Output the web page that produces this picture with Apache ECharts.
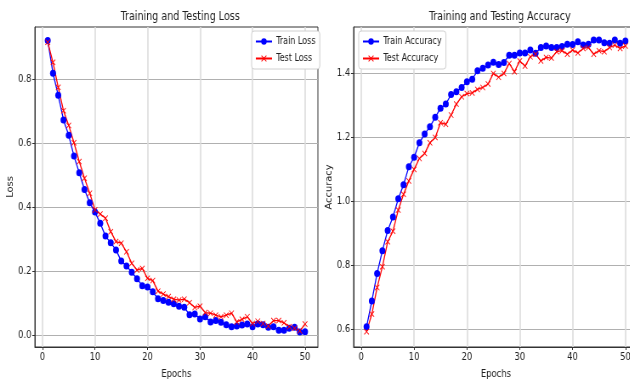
<!DOCTYPE html>
<html><head><meta charset="utf-8">
<script src="https://cdn.jsdelivr.net/npm/echarts@6/dist/echarts.min.js"></script>
<style>html,body{margin:0;padding:0;background:#fff;overflow:hidden}
#wrap{width:630px;height:381px;overflow:hidden}
#c{width:741px;height:381px;transform:scaleX(0.85);transform-origin:0 0}</style>
</head><body><div id="wrap"><div id="c"></div></div>
<script>
const epochs = Array.from({length: 50}, (_, i) => i + 1);
const trainLoss = [0.92,0.818,0.749,0.672,0.624,0.559,0.507,0.455,0.413,0.384,0.349,0.309,0.288,0.266,0.231,0.216,0.196,0.176,0.154,0.150,0.135,0.113,0.108,0.102,0.098,0.090,0.087,0.063,0.066,0.050,0.057,0.041,0.045,0.040,0.032,0.026,0.028,0.031,0.034,0.026,0.034,0.032,0.024,0.026,0.015,0.015,0.021,0.024,0.009,0.010];
const testLoss = [0.915,0.852,0.774,0.701,0.655,0.601,0.542,0.490,0.443,0.391,0.378,0.365,0.323,0.292,0.287,0.260,0.224,0.203,0.208,0.177,0.170,0.137,0.128,0.120,0.112,0.109,0.112,0.101,0.086,0.090,0.070,0.068,0.062,0.057,0.062,0.068,0.041,0.049,0.057,0.036,0.043,0.036,0.028,0.045,0.045,0.038,0.026,0.021,0.013,0.034];
const trainAcc = [0.607,0.688,0.774,0.845,0.908,0.950,1.007,1.051,1.107,1.137,1.182,1.210,1.232,1.262,1.290,1.303,1.333,1.342,1.355,1.373,1.381,1.407,1.415,1.425,1.434,1.427,1.433,1.456,1.456,1.463,1.463,1.472,1.462,1.480,1.485,1.480,1.480,1.483,1.490,1.489,1.498,1.488,1.490,1.503,1.503,1.495,1.493,1.503,1.493,1.500];
const testAcc = [0.592,0.647,0.730,0.795,0.873,0.906,0.972,1.021,1.063,1.099,1.133,1.149,1.182,1.199,1.245,1.240,1.269,1.303,1.326,1.336,1.338,1.349,1.355,1.366,1.399,1.387,1.399,1.430,1.404,1.438,1.422,1.451,1.459,1.438,1.449,1.447,1.467,1.470,1.459,1.472,1.463,1.477,1.480,1.459,1.470,1.467,1.480,1.487,1.477,1.485];
const xTicks = [0,10,20,30,40,50];
const lossTicks = [0.0,0.2,0.4,0.6,0.8];
const accTicks = [0.6,0.8,1.0,1.2,1.4];

const FONT = 'DejaVu Sans Condensed, DejaVu Sans, sans-serif';
const xSym = 'path://M0,1 L1,0 L5,4 L9,0 L10,1 L6,5 L10,9 L9,10 L5,6 L1,10 L0,9 L4,5 Z';
const chart = echarts.init(document.getElementById('c'), null, {renderer: 'canvas'});
function xAxis(gi) {
  return {
    type: 'value', gridIndex: gi, min: -1.45, max: 52.45,
    name: 'Epochs', nameLocation: 'middle', nameGap: 22,
    nameTextStyle: {fontFamily: FONT, fontSize: 11, color: '#222'},
    axisLine: {show: true, onZero: false, lineStyle: {color: '#333'}},
    axisTick: {show: true, length: 3, customValues: xTicks, lineStyle: {color: '#333'}},
    axisLabel: {customValues: xTicks, fontFamily: FONT, fontSize: 11, color: '#222', margin: 5},
    splitLine: {show: true, lineStyle: {color: '#dcdcdc', width: 1.6}}
  };
}
function yAxis(gi, min, max, ticks, name) {
  return {
    type: 'value', gridIndex: gi, min: min, max: max,
    name: name, nameLocation: 'middle', nameGap: 23,
    nameTextStyle: {fontFamily: FONT, fontSize: 11, color: '#222'},
    axisLine: {show: true, onZero: false, lineStyle: {color: '#333'}},
    axisTick: {show: true, length: 3, customValues: ticks, lineStyle: {color: '#333'}},
    axisLabel: {customValues: ticks, fontFamily: FONT, fontSize: 11, color: '#222', margin: 4,
      formatter: v => v.toFixed(1)},
    splitLine: {show: true, lineStyle: {color: '#b0b0b0', width: 1}}
  };
}
function pairs(ys) { return epochs.map((e, i) => [e, ys[i]]); }
function series(name, data, gi, color, sym, size) {
  return {
    name: name, type: 'line', xAxisIndex: gi, yAxisIndex: gi, data: pairs(data),
    symbol: sym, symbolSize: size, showSymbol: true,
    lineStyle: {color: color, width: 1.3},
    itemStyle: {color: color, borderColor: color, borderWidth: 0},
    emphasis: {disabled: true}, animation: false, z: 3
  };
}
const legendCommon = {
  orient: 'vertical', top: 31, itemGap: 6, itemWidth: 19, itemHeight: 8,
  padding: [5, 5, 5, 4], backgroundColor: '#fff', borderColor: '#d0d0d0',
  borderWidth: 1, borderRadius: 3, z: 10,
  textStyle: {fontFamily: FONT, fontSize: 10.5, color: '#222'}
};
chart.setOption({
  animation: false,
  backgroundColor: '#fff',
  title: [
    {text: 'Training and Testing Loss', left: 207, top: 5, textAlign: 'center',
      textStyle: {fontFamily: FONT, fontSize: 12.5, fontWeight: 'normal', color: '#222'}},
    {text: 'Training and Testing Accuracy', left: 583, top: 5, textAlign: 'center',
      textStyle: {fontFamily: FONT, fontSize: 12.5, fontWeight: 'normal', color: '#222'}}
  ],
  grid: [
    {left: 41, right: 367, top: 27, bottom: 34, outerBoundsMode: 'none', containLabel: false,
      show: true, borderColor: '#333', borderWidth: 1, backgroundColor: 'transparent'},
    {left: 416, right: -10, top: 27, bottom: 34, outerBoundsMode: 'none', containLabel: false,
      show: true, borderColor: '#333', borderWidth: 1, backgroundColor: 'transparent'}
  ],
  xAxis: [xAxis(0), xAxis(1)],
  yAxis: [yAxis(0, -0.0375, 0.9625, lossTicks, 'Loss'), yAxis(1, 0.544, 1.544, accTicks, 'Accuracy')],
  legend: [
    Object.assign({data: ['Train Loss', 'Test Loss'], left: 296}, legendCommon),
    Object.assign({data: ['Train Accuracy', 'Test Accuracy'], left: 422}, legendCommon)
  ],
  series: [
    series('Train Loss', trainLoss, 0, '#0000ff', 'circle', 7),
    series('Test Loss', testLoss, 0, '#ff0000', xSym, 6),
    series('Train Accuracy', trainAcc, 1, '#0000ff', 'circle', 7),
    series('Test Accuracy', testAcc, 1, '#ff0000', xSym, 6)
  ]
});
</script></body></html>
